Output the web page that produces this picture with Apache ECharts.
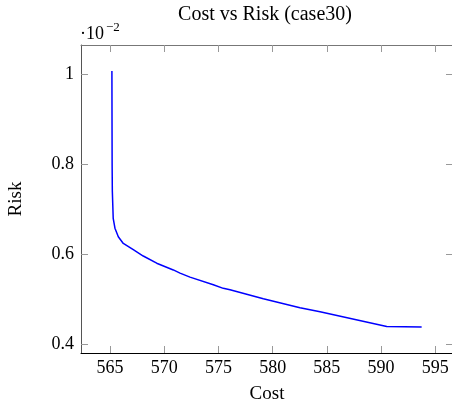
<!DOCTYPE html>
<html>
<head>
<meta charset="utf-8">
<script src="https://cdn.jsdelivr.net/npm/echarts@6/dist/echarts.min.js"></script>
<style>html,body{margin:0;padding:0;background:#fff}#c{width:452px;height:403px}</style>
</head>
<body>
<div id="c"></div>
<script>
// Data (risk given in units of 1e-2)
var cost = [565.18, 565.19, 565.20, 565.22, 565.30, 565.46, 565.77, 566.23, 567.15, 568.07, 569.31, 570.84, 571.46, 572.38, 574.53, 575.45, 576.07, 579.14, 582.52, 584.37, 590.52, 593.74];
var riskE2 = [1.008, 0.90, 0.80, 0.74, 0.68, 0.658, 0.639, 0.624, 0.610, 0.596, 0.580, 0.565, 0.558, 0.549, 0.532, 0.524, 0.521, 0.501, 0.481, 0.472, 0.439, 0.438];
var xTicks = [565, 570, 575, 580, 585, 590, 595];
var yTicks = [0.4, 0.6, 0.8, 1];
var titleText = 'Cost vs Risk (case30)';
var xName = 'Cost';
var yName = 'Risk';

var pts = cost.map(function (c, i) { return [c, riskE2[i]]; });
var font = 'Liberation Serif';

function xAxisDef(pos, showLabels, lineColor) {
  return {
    type: 'value', position: pos, min: 562.33, max: 596.63,
    axisLine: { show: true, lineStyle: { color: lineColor, width: 1 } },
    axisTick: { show: true, inside: true, length: 7, lineStyle: { color: '#999' }, customValues: xTicks },
    axisLabel: { show: showLabels, customValues: xTicks, margin: 6, fontFamily: font, fontSize: 18, color: '#000' },
    splitLine: { show: false },
    name: showLabels ? xName : '', nameLocation: 'middle', nameGap: 32,
    nameTextStyle: { fontFamily: font, fontSize: 19, color: '#000' }
  };
}
function yAxisDef(pos, showLabels, lineColor) {
  return {
    type: 'value', position: pos, min: 0.38, max: 1.066,
    axisLine: { show: true, lineStyle: { color: lineColor, width: 1 } },
    axisTick: { show: true, inside: true, length: 7, lineStyle: { color: '#999' }, customValues: yTicks },
    axisLabel: { show: showLabels, customValues: yTicks, margin: 7, fontFamily: font, fontSize: 18, color: '#000',
      formatter: function (v) { return String(Math.round(v * 10) / 10); } },
    splitLine: { show: false },
    name: showLabels ? yName : '', nameLocation: 'middle', nameGap: 55, nameRotate: 90,
    nameTextStyle: { fontFamily: font, fontSize: 19, color: '#000' }
  };
}

var chart = echarts.init(document.getElementById('c'), null, { renderer: 'canvas' });
chart.setOption({
  animation: false,
  backgroundColor: '#fff',
  grid: { left: 81, right: -1, top: 45, bottom: 50, containLabel: false, outerBoundsMode: 'none' },
  xAxis: [xAxisDef('bottom', true, '#000'), xAxisDef('top', false, '#777')],
  yAxis: [yAxisDef('left', true, '#555'), yAxisDef('right', false, '#777')],
  graphic: [
    { type: 'text', x: 265, y: 15, style: { text: titleText, font: '20px "Liberation Serif"', fill: '#000', textAlign: 'center', textVerticalAlign: 'middle' } },
    { type: 'text', x: 80, y: 34, style: { text: '\u00b710', font: '18px "Liberation Serif"', fill: '#000', textAlign: 'left', textVerticalAlign: 'middle' } },
    { type: 'text', x: 106, y: 28, style: { text: '\u22122', font: '13px "Liberation Serif"', fill: '#000', textAlign: 'left', textVerticalAlign: 'middle' } }
  ],
  series: [{
    type: 'line', data: pts, xAxisIndex: 0, yAxisIndex: 0,
    showSymbol: false, symbol: 'none', smooth: false,
    lineStyle: { color: '#0000ff', width: 1.5 }
  }]
});
</script>
</body>
</html>
